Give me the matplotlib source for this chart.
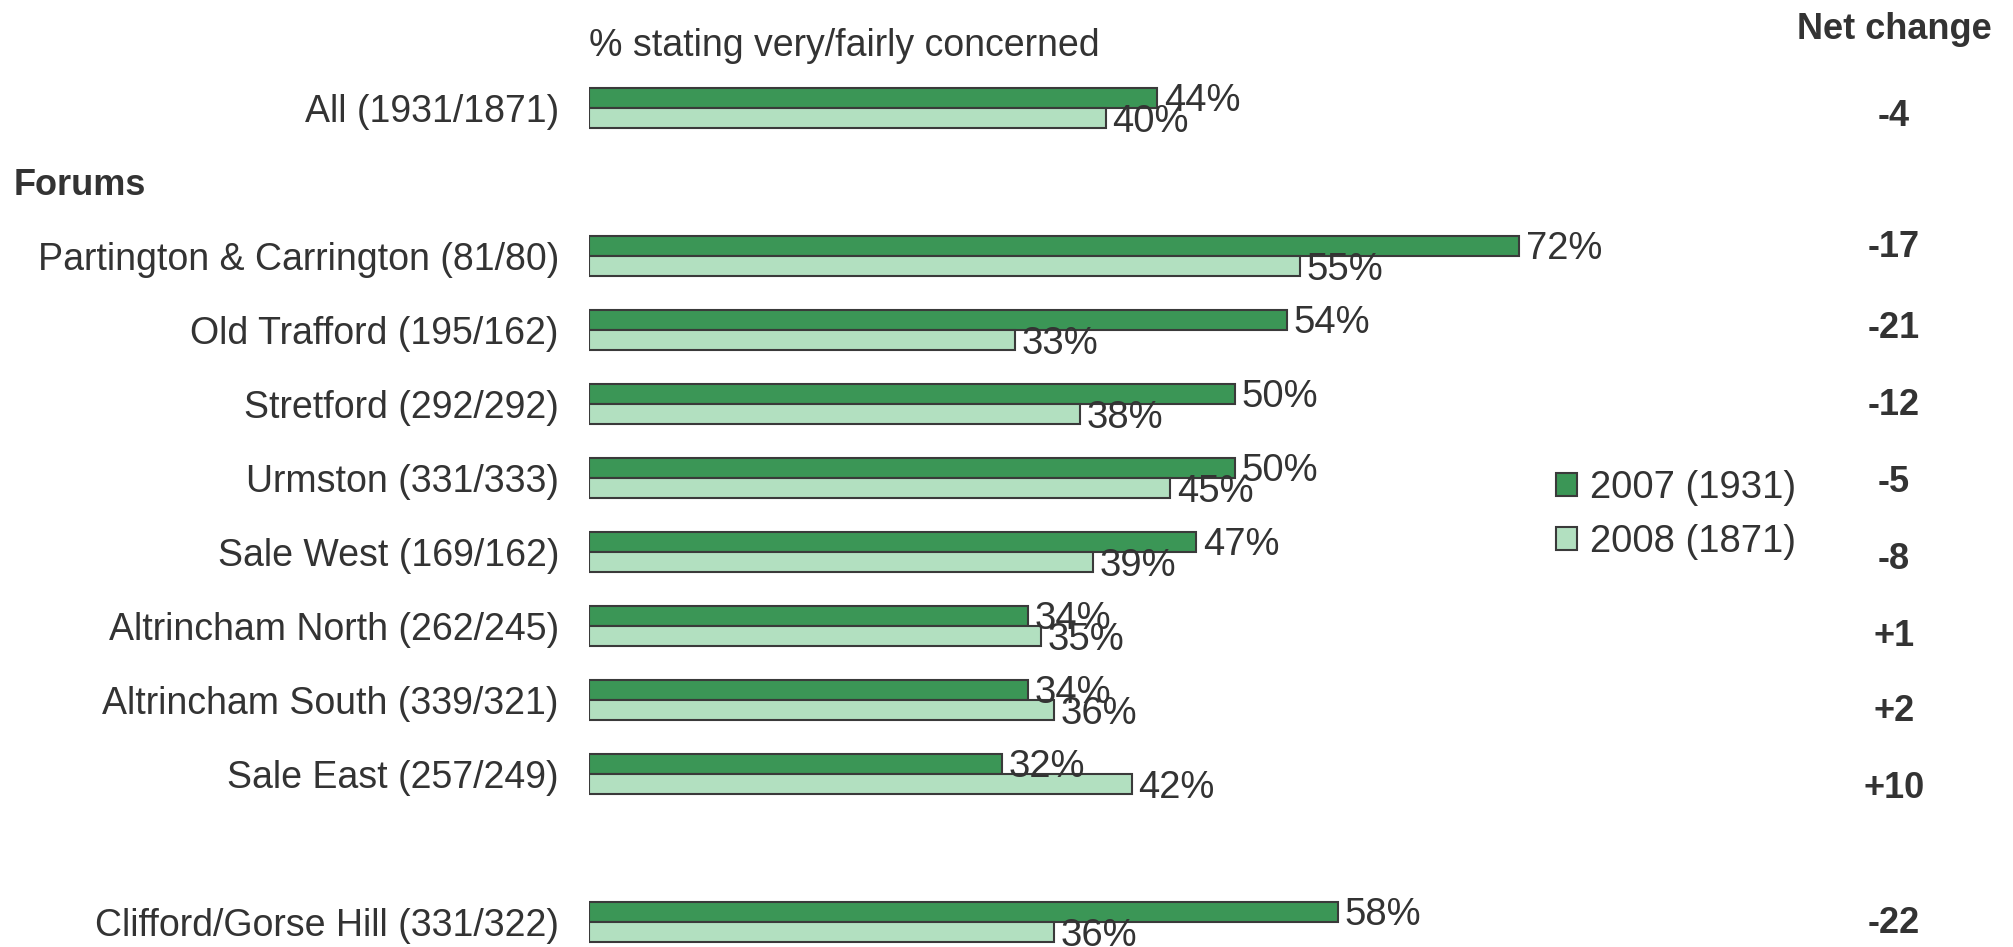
import matplotlib
matplotlib.use("Agg")
import matplotlib.pyplot as plt
from matplotlib.patches import Patch

plt.rcParams['font.family'] = ['Liberation Sans', 'DejaVu Sans']

categories = ["All (1931/1871)", "Partington & Carrington (81/80)", "Old Trafford (195/162)",
              "Stretford (292/292)", "Urmston (331/333)", "Sale West (169/162)",
              "Altrincham North (262/245)", "Altrincham South (339/321)",
              "Sale East (257/249)", "Clifford/Gorse Hill (331/322)"]
v2007 = [44, 72, 54, 50, 50, 47, 34, 34, 32, 58]
v2008 = [40, 55, 33, 38, 45, 39, 35, 36, 42, 36]
series_names = ["2007 (1931)", "2008 (1871)"]
rows = [0, 2, 3, 4, 5, 6, 7, 8, 9, 11]
net_offsets = [0.07, -0.16, -0.07, -0.03, 0.01, 0.05, 0.09, 0.11, 0.15, -0.03]

TXT = '#333333'
DARK = '#3B9656'
LIGHT = '#B2E0C0'
EDGE = '#3a3a3a'
FS = 27.0
DY = 0.05

W, H = 2013, 947
fig = plt.figure(figsize=(W / 100, H / 100), dpi=100)
x0 = 589
ax = fig.add_axes([x0 / W, 0, 1 - x0 / W, 1])
px_per_pct = 12.92
ax.set_xlim(0, (W - x0) / px_per_pct)
rowpx = 74.0
top_row_px = 108.0
ax.set_ylim(11 + (H - (top_row_px + 11 * rowpx)) / rowpx, -top_row_px / rowpx)
ax.axis('off')

bh = 0.277
for r, a, b in zip(rows, v2007, v2008):
    ax.barh(r - bh / 2, a, height=bh, color=DARK, edgecolor=EDGE, linewidth=1.5)
    ax.barh(r + bh / 2, b, height=bh, color=LIGHT, edgecolor=EDGE, linewidth=1.5)
    ax.text(a + 0.5, r - bh / 2 + DY, f"{a}%", va='center', ha='left', fontsize=FS + 0.5, color=TXT)
    ax.text(b + 0.5, r + bh / 2 + DY, f"{b}%", va='center', ha='left', fontsize=FS + 0.5, color=TXT)

# category labels
for r, c in zip(rows, categories):
    ax.text(-30 / px_per_pct, r + DY, c, ha='right', va='center', fontsize=FS, color=TXT,
            clip_on=False)
ax.text(-(x0 - 14) / px_per_pct, 1 + DY, "Forums", ha='left', va='center', fontsize=FS - 1,
        fontweight='bold', color=TXT, clip_on=False)

ax.text(0, -0.89 + DY, "% stating very/fairly concerned", ha='left', va='center',
        fontsize=FS, color=TXT)

# net change
xnet = (1894 - x0) / px_per_pct
ax.text(xnet, -1.11 + DY, "Net change", ha='center', va='center', fontsize=FS - 1,
        fontweight='bold', color=TXT)
for r, a, b, off in zip(rows, v2007, v2008, net_offsets):
    d = b - a
    s = f"+{d}" if d > 0 else f"{d}"
    ax.text(xnet, r + off + DY, s, ha='center', va='center', fontsize=FS - 1,
            fontweight='bold', color=TXT)

handles = [Patch(facecolor=DARK, edgecolor=EDGE, linewidth=1.5),
           Patch(facecolor=LIGHT, edgecolor=EDGE, linewidth=1.5)]
fig.legend(handles, series_names, loc='center left',
           bbox_to_anchor=(1556 / W, 1 - 515 / H), frameon=False, fontsize=FS + 0.5,
           handlelength=0.55, handleheight=0.55, handletextpad=0.35, labelspacing=0.45,
           borderpad=0, borderaxespad=0, labelcolor=TXT)

fig.savefig("out.png", dpi=100)
